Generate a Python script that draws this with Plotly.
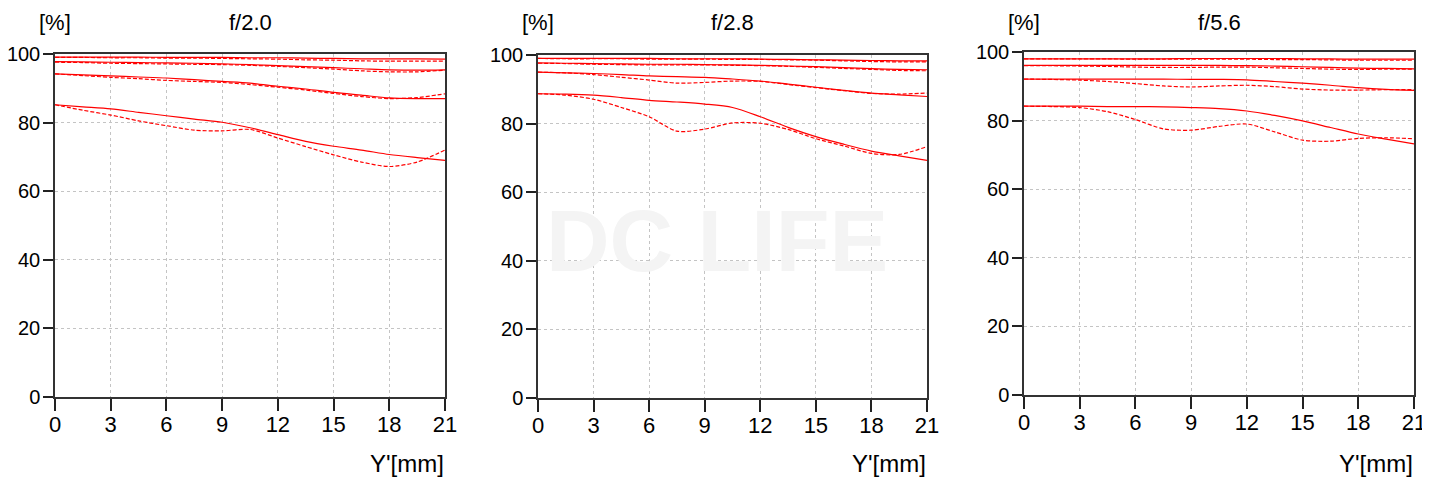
import plotly.graph_objects as go

pos_mm = [0, 1.5, 3, 4.5, 6, 7.5, 9, 10.5, 12, 13.5, 15, 16.5, 18, 19.5, 21]
apertures = ["f/2.0", "f/2.8", "f/5.6"]

# f/2.0  (S = sagittal, solid; M = meridional, dashed)
f20_s1 = [99.1, 99.1, 99.1, 99.1, 99.0, 99.0, 99.0, 98.9, 98.9, 98.8, 98.7, 98.6, 98.6, 98.6, 98.5]
f20_m1 = [99.0, 99.0, 98.9, 98.9, 98.8, 98.8, 98.7, 98.6, 98.5, 98.3, 98.2, 98.0, 97.9, 97.9, 97.9]
f20_s2 = [97.8, 97.7, 97.6, 97.5, 97.4, 97.3, 97.1, 96.9, 96.6, 96.3, 96.0, 95.7, 95.4, 95.3, 95.4]
f20_m2 = [97.6, 97.5, 97.3, 97.2, 97.1, 97.0, 96.9, 96.7, 96.4, 96.0, 95.6, 95.1, 94.8, 94.8, 95.3]
f20_s3 = [94.2, 93.9, 93.6, 93.3, 93.0, 92.5, 92.0, 91.5, 90.6, 89.8, 88.8, 88.0, 87.2, 87.0, 87.0]
f20_m3 = [94.2, 93.7, 93.2, 92.8, 92.3, 92.0, 91.7, 91.1, 90.3, 89.5, 88.5, 87.6, 87.0, 87.3, 88.4]
f20_s4 = [85.2, 84.6, 84.0, 83.0, 82.0, 81.0, 80.1, 78.5, 76.5, 74.5, 73.1, 72.0, 70.7, 69.8, 69.0]
f20_m4 = [85.2, 83.6, 82.2, 80.5, 79.1, 77.8, 77.6, 78.0, 75.5, 73.0, 70.6, 68.5, 67.2, 68.5, 72.0]

# f/2.8
f28_s1 = [99.0, 99.0, 99.0, 99.0, 99.0, 98.9, 98.9, 98.9, 98.8, 98.7, 98.6, 98.5, 98.4, 98.3, 98.3]
f28_m1 = [99.0, 98.9, 98.9, 98.9, 98.8, 98.8, 98.8, 98.7, 98.7, 98.6, 98.5, 98.3, 98.1, 98.0, 98.0]
f28_s2 = [97.7, 97.6, 97.5, 97.4, 97.3, 97.3, 97.2, 97.1, 97.0, 96.8, 96.6, 96.3, 96.0, 95.8, 95.7]
f28_m2 = [97.6, 97.5, 97.3, 97.2, 97.1, 97.1, 97.1, 97.0, 96.9, 96.7, 96.4, 96.1, 95.8, 95.5, 95.4]
f28_s3 = [95.0, 94.8, 94.6, 94.3, 93.9, 93.7, 93.5, 93.0, 92.4, 91.5, 90.6, 89.7, 88.9, 88.4, 87.9]
f28_m3 = [95.0, 94.8, 94.3, 93.5, 92.7, 91.8, 92.0, 92.4, 92.3, 91.4, 90.5, 89.6, 88.8, 88.6, 88.9]
f28_s4 = [88.7, 88.6, 88.3, 87.6, 86.8, 86.3, 85.7, 84.7, 82.0, 78.9, 76.2, 74.0, 72.0, 70.6, 69.3]
f28_m4 = [88.7, 88.3, 87.1, 84.7, 82.0, 77.8, 78.4, 80.2, 80.1, 78.3, 75.6, 73.5, 71.3, 71.0, 73.3]

# f/5.6
f56_s1 = [98.0, 98.0, 98.0, 98.0, 98.0, 98.0, 98.1, 98.1, 98.1, 98.1, 98.0, 98.0, 97.9, 97.9, 97.9]
f56_m1 = [98.0, 98.0, 98.0, 98.0, 97.9, 97.9, 97.9, 97.9, 97.9, 97.8, 97.8, 97.7, 97.6, 97.6, 97.6]
f56_s2 = [96.1, 96.1, 96.1, 96.1, 96.1, 96.1, 96.1, 96.1, 96.0, 95.9, 95.7, 95.5, 95.3, 95.2, 95.1]
f56_m2 = [96.0, 96.0, 95.9, 95.8, 95.6, 95.5, 95.5, 95.6, 95.6, 95.4, 95.2, 95.0, 94.9, 95.0, 95.0]
f56_s3 = [92.1, 92.1, 92.1, 92.1, 92.1, 92.1, 92.0, 92.0, 91.9, 91.4, 90.9, 90.3, 89.6, 89.1, 88.8]
f56_m3 = [92.1, 92.0, 91.8, 91.4, 90.8, 90.1, 89.8, 90.1, 90.3, 89.9, 89.2, 88.9, 88.9, 89.0, 89.0]
f56_s4 = [84.2, 84.2, 84.2, 84.1, 84.1, 84.0, 83.8, 83.5, 82.8, 81.5, 79.9, 78.0, 76.1, 74.6, 73.2]
f56_m4 = [84.2, 84.1, 83.8, 82.6, 80.3, 77.6, 77.2, 78.3, 79.0, 76.7, 74.3, 74.0, 74.8, 75.0, 74.7]

panels = [
    [f20_s1, f20_m1, f20_s2, f20_m2, f20_s3, f20_m3, f20_s4, f20_m4],
    [f28_s1, f28_m1, f28_s2, f28_m2, f28_s3, f28_m3, f28_s4, f28_m4],
    [f56_s1, f56_m1, f56_s2, f56_m2, f56_s3, f56_m3, f56_s4, f56_m4],
]

# the page body adds an 8px margin, so the figure is sized to fill the rest
OFF = 8
W, H = 1430 - OFF, 478 - OFF
FONT = "Liberation Sans, Arial, sans-serif"
RED = "#ff0000"

# plot-area boxes in window pixels: (left, right, top, bottom)
boxes = [(55, 445, 54, 397), (538, 927, 55, 398), (1024, 1414, 52, 395)]


def px(x):
    return (x - OFF) / W


def py(y):
    return 1 - (y - OFF) / H


def label(text, x, y, size, xanchor="center"):
    fig.add_annotation(
        text=text, x=px(x), y=py(y), xref="paper", yref="paper",
        xanchor=xanchor, yanchor="middle", showarrow=False,
        font=dict(family=FONT, size=size, color="#000"),
    )


fig = go.Figure()

for i, (curves, box) in enumerate(zip(panels, boxes)):
    n = "" if i == 0 else str(i + 1)
    for j, vals in enumerate(curves):
        dashed = j % 2 == 1
        fig.add_trace(
            go.Scatter(
                x=pos_mm,
                y=vals,
                xaxis="x" + n,
                yaxis="y" + n,
                mode="lines",
                line=dict(
                    color=RED,
                    width=1.2,
                    dash="4px,2px" if dashed else "solid",
                    shape="spline",
                    smoothing=0.8,
                ),
                showlegend=False,
                hoverinfo="skip",
            )
        )

    left, right, top, bottom = box
    axis_common = dict(
        showline=True,
        mirror=True,
        linecolor="#333",
        linewidth=1.5,
        showgrid=True,
        gridcolor="#c4c4c4",
        griddash="dot",
        gridwidth=1,
        zeroline=False,
        ticks="outside",
        tickcolor="#222",
        tickwidth=1.5,
        automargin=False,
    )
    fig.update_layout(
        {
            "xaxis" + n: dict(
                axis_common,
                domain=[px(left), px(right)],
                anchor="y" + n,
                range=[0, 21],
                tickvals=[0, 3, 6, 9, 12, 15, 18, 21],
                ticklen=12,
                ticklabelstandoff=-5,
                tickfont=dict(family=FONT, size=22, color="#000"),
            ),
            "yaxis" + n: dict(
                axis_common,
                domain=[py(bottom), py(top)],
                anchor="x" + n,
                range=[0, 100],
                tickvals=[0, 20, 40, 60, 80, 100],
                ticklen=10,
                ticklabelstandoff=-1,
                tickfont=dict(family=FONT, size=20, color="#000"),
            ),
        }
    )

    label("[%]", left, 22, 22)
    label(apertures[i], (left + right) / 2, 22, 22)
    label("Y'[mm]", right + 1, 463, 24, xanchor="right")

# faint watermark in the middle panel
fig.add_annotation(
    text="<b>DC LIFE</b>", x=px(717), y=py(240), xref="paper", yref="paper",
    xanchor="center", yanchor="middle", showarrow=False,
    font=dict(family=FONT, size=88, color="#f4f4f4"),
)

fig.update_layout(
    width=W,
    height=H,
    margin=dict(l=0, r=0, t=0, b=0, autoexpand=False),
    paper_bgcolor="white",
    plot_bgcolor="white",
)

fig.write_html("out.html")
